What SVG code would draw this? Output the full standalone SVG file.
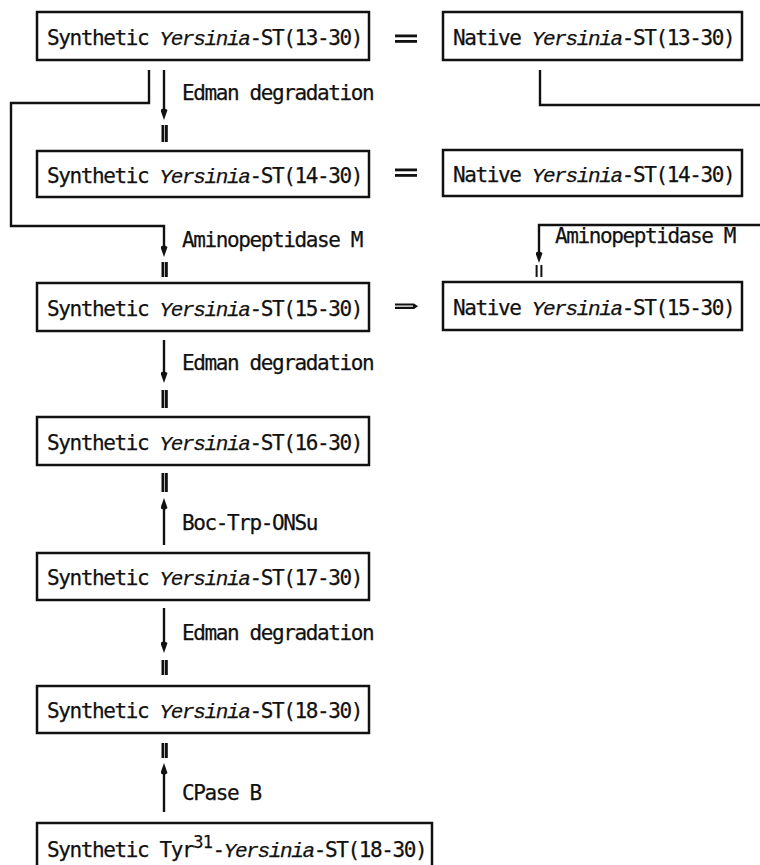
<svg xmlns="http://www.w3.org/2000/svg" width="760" height="865" viewBox="0 0 760 865">
<style>
  .box { fill: #fff; stroke: #111; stroke-width: 2.5; }
  .t { font-family: "DejaVu Sans Mono", "Liberation Mono", monospace; font-size: 21px; letter-spacing: -1.4px; fill: #111; stroke: #111; stroke-width: 0.25; }
  .it { font-family: "Liberation Mono", "DejaVu Sans Mono", monospace; font-style: italic; letter-spacing: -1.35px; }
  .sup { font-size: 17px; letter-spacing: -0.6px; }
  .ln { fill: none; stroke: #111; stroke-width: 2.4; }
  .mk { fill: #111; }
</style>
<defs>
  <marker id="ah" viewBox="0 0 12 7" refX="5" refY="3.5" markerWidth="12" markerHeight="7" markerUnits="userSpaceOnUse" orient="auto">
    <path d="M12,3.5 L2,0 Q-1,3.5 2,7 Z" fill="#111"/>
  </marker>
</defs>

<g id="connectors">
  <line class="ln" x1="164" y1="70" x2="164" y2="113" marker-end="url(#ah)"/>
  <path class="ln" d="M149,70 L149,103 L11,103 L11,226 L164,226 L164,250" marker-end="url(#ah)"/>
  <line class="ln" x1="164" y1="340" x2="164" y2="376" marker-end="url(#ah)"/>
  <line class="ln" x1="164" y1="545" x2="164" y2="505" marker-end="url(#ah)"/>
  <line class="ln" x1="164" y1="608" x2="164" y2="646" marker-end="url(#ah)"/>
  <line class="ln" x1="164" y1="812" x2="164" y2="770" marker-end="url(#ah)"/>
  <path class="ln" d="M540,70 L540,105 L762,105"/>
  <path class="ln" d="M762,225 L539,225 L539,256" marker-end="url(#ah)"/>
  <!-- double-bar marks -->
  <rect class="mk" x="161.5" y="125" width="2.8" height="17"/><rect class="mk" x="165" y="125" width="2.8" height="17"/>
  <rect class="mk" x="161.5" y="262" width="2.8" height="15"/><rect class="mk" x="165" y="262" width="2.8" height="15"/>
  <rect class="mk" x="161.5" y="390" width="2.8" height="18"/><rect class="mk" x="165" y="390" width="2.8" height="18"/>
  <rect class="mk" x="161.5" y="473" width="2.8" height="19"/><rect class="mk" x="165" y="473" width="2.8" height="19"/>
  <rect class="mk" x="161.5" y="660" width="2.8" height="15"/><rect class="mk" x="165" y="660" width="2.8" height="15"/>
  <rect class="mk" x="161.5" y="743" width="2.8" height="15"/><rect class="mk" x="165" y="743" width="2.8" height="15"/>
  <rect class="mk" x="535.6" y="265" width="2" height="12"/><rect class="mk" x="540.4" y="265" width="2" height="12"/>
  <!-- equivalence signs -->
  <rect class="mk" x="395" y="34.5" width="22" height="2.8"/><rect class="mk" x="395" y="40" width="22" height="2.8"/>
  <rect class="mk" x="395" y="168.5" width="22" height="2.8"/><rect class="mk" x="395" y="174" width="22" height="2.8"/>
  <path class="mk" d="M395,303.5 L414,303.5 L418,306.2 L414,308.9 L395,308.9 L395,306.8 L413,306.8 L413,305.6 L395,305.6 Z"/>
  <!-- labels -->
  <text class="t" x="182" y="100">Edman degradation</text>
  <text class="t" x="182" y="247">Aminopeptidase M</text>
  <text class="t" x="555" y="243">Aminopeptidase M</text>
  <text class="t" x="182" y="370">Edman degradation</text>
  <text class="t" x="182" y="530">Boc-Trp-ONSu</text>
  <text class="t" x="182" y="640">Edman degradation</text>
  <text class="t" x="182" y="800">CPase B</text>
</g>

<g id="syn13">
  <rect class="box" x="37" y="12" width="332" height="48"/>
  <text class="t" x="47" y="45">Synthetic <tspan class="it">Yersinia</tspan>-ST(13-30)</text>
</g>
<g id="nat13">
  <rect class="box" x="443" y="12" width="299" height="48"/>
  <text class="t" x="453" y="45">Native <tspan class="it">Yersinia</tspan>-ST(13-30)</text>
</g>
<g id="syn14">
  <rect class="box" x="37" y="151" width="332" height="46"/>
  <text class="t" x="47" y="183">Synthetic <tspan class="it">Yersinia</tspan>-ST(14-30)</text>
</g>
<g id="nat14">
  <rect class="box" x="443" y="150" width="299" height="46"/>
  <text class="t" x="453" y="182">Native <tspan class="it">Yersinia</tspan>-ST(14-30)</text>
</g>
<g id="syn15">
  <rect class="box" x="37" y="283" width="332" height="48"/>
  <text class="t" x="47" y="316">Synthetic <tspan class="it">Yersinia</tspan>-ST(15-30)</text>
</g>
<g id="nat15">
  <rect class="box" x="443" y="282" width="299" height="48"/>
  <text class="t" x="453" y="315">Native <tspan class="it">Yersinia</tspan>-ST(15-30)</text>
</g>
<g id="syn16">
  <rect class="box" x="37" y="417" width="332" height="48"/>
  <text class="t" x="47" y="450">Synthetic <tspan class="it">Yersinia</tspan>-ST(16-30)</text>
</g>
<g id="syn17">
  <rect class="box" x="37" y="553" width="332" height="47"/>
  <text class="t" x="47" y="585">Synthetic <tspan class="it">Yersinia</tspan>-ST(17-30)</text>
</g>
<g id="syn18">
  <rect class="box" x="37" y="686" width="332" height="47"/>
  <text class="t" x="47" y="718">Synthetic <tspan class="it">Yersinia</tspan>-ST(18-30)</text>
</g>
<g id="tyr31">
  <rect class="box" x="37" y="823" width="395" height="50"/>
  <text class="t" x="47" y="857">Synthetic Tyr<tspan class="sup" dy="-9">31</tspan><tspan dy="9">-</tspan><tspan class="it">Yersinia</tspan>-ST(18-30)</text>
</g>
</svg>
